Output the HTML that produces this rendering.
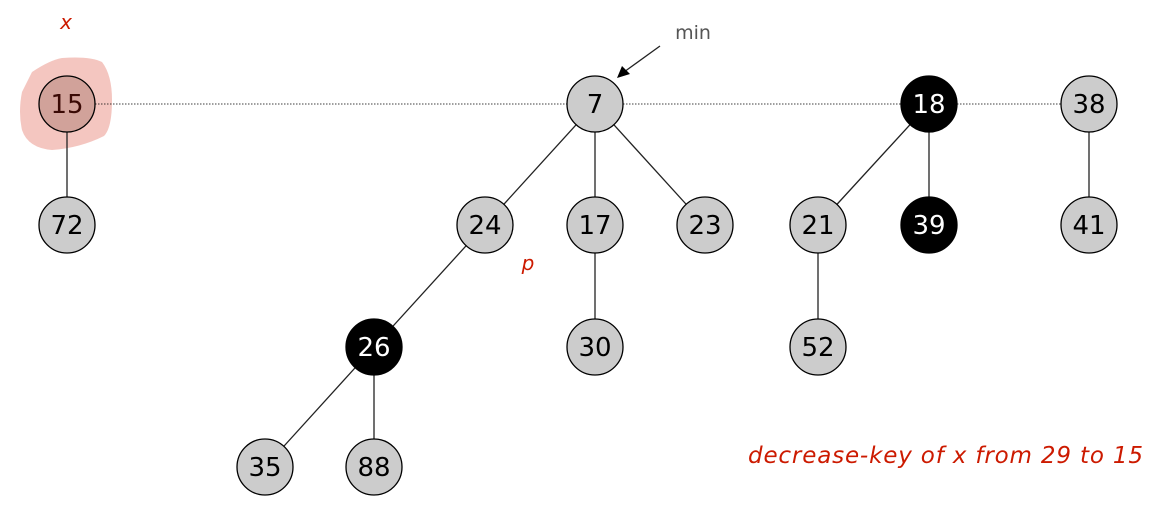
<!DOCTYPE html>
<html><head><style>body{margin:0;background:#fff}svg{display:block}</style></head><body>
<svg width="1175" height="515" xmlns="http://www.w3.org/2000/svg" font-family="'DejaVu Sans','Liberation Sans',sans-serif">
<path d="M32,72 Q50,60 62,58 Q90,56 102,62 Q112,75 112,100 Q112,128 104,136 Q80,148 52,150 Q28,148 22,130 Q18,112 22,92 Z" fill="#f4c6c0"/>
<g stroke="#000" stroke-width="0.8" stroke-dasharray="1.5,1.5">
<line x1="95" y1="104" x2="567" y2="104"/><line x1="623" y1="104" x2="901" y2="104"/><line x1="957" y1="104" x2="1061" y2="104"/>
</g>
<g stroke="#222" stroke-width="1.3">
<line x1="67" y1="104" x2="67" y2="225"/>
<line x1="595" y1="104" x2="485" y2="225"/><line x1="595" y1="104" x2="595" y2="225"/><line x1="595" y1="104" x2="705" y2="225"/>
<line x1="929" y1="104" x2="818" y2="225"/><line x1="929" y1="104" x2="929" y2="225"/>
<line x1="1089" y1="104" x2="1089" y2="225"/>
<line x1="485" y1="225" x2="374" y2="347"/><line x1="595" y1="225" x2="595" y2="347"/><line x1="818" y1="225" x2="818" y2="347"/>
<line x1="374" y1="347" x2="265" y2="467"/><line x1="374" y1="347" x2="374" y2="467"/>
<line x1="660" y1="46" x2="624" y2="72"/>
</g>
<polygon points="617,78 622,66 630,74" fill="#000"/>
<g stroke="#000" stroke-width="1.3" font-size="26" text-anchor="middle">
<circle cx="67" cy="104" r="28" fill="#d1a29a"/>
<g fill="#ccc">
<circle cx="67" cy="225" r="28"/><circle cx="595" cy="104" r="28"/><circle cx="1089" cy="104" r="28"/>
<circle cx="485" cy="225" r="28"/><circle cx="595" cy="225" r="28"/><circle cx="705" cy="225" r="28"/><circle cx="818" cy="225" r="28"/><circle cx="1089" cy="225" r="28"/>
<circle cx="595" cy="347" r="28"/><circle cx="818" cy="347" r="28"/><circle cx="265" cy="467" r="28"/><circle cx="374" cy="467" r="28"/>
</g>
<g fill="#000"><circle cx="929" cy="104" r="28"/><circle cx="929" cy="225" r="28"/><circle cx="374" cy="347" r="28"/></g>
</g>
<g font-size="26" text-anchor="middle" fill="#000">
<text x="67" y="113" fill="#3a0a05">15</text><text x="67" y="234">72</text><text x="595" y="113">7</text><text x="1089" y="113">38</text>
<text x="485" y="234">24</text><text x="595" y="234">17</text><text x="705" y="234">23</text><text x="818" y="234">21</text><text x="1089" y="234">41</text>
<text x="595" y="356">30</text><text x="818" y="356">52</text><text x="265" y="476">35</text><text x="374" y="476">88</text>
<g fill="#fff"><text x="929" y="113">18</text><text x="929" y="234">39</text><text x="374" y="356">26</text></g>
</g>
<text x="693" y="39" font-size="19" fill="#555" text-anchor="middle">min</text>
<g fill="#cc1a00" font-style="italic">
<text x="66" y="29" font-size="20" text-anchor="middle">x</text>
<text x="528" y="270" font-size="20" text-anchor="middle">p</text>
<text x="1143" y="463" font-size="23" text-anchor="end" textLength="395" lengthAdjust="spacing">decrease-key of x from 29 to 15</text>
</g>
</svg>
</body></html>
